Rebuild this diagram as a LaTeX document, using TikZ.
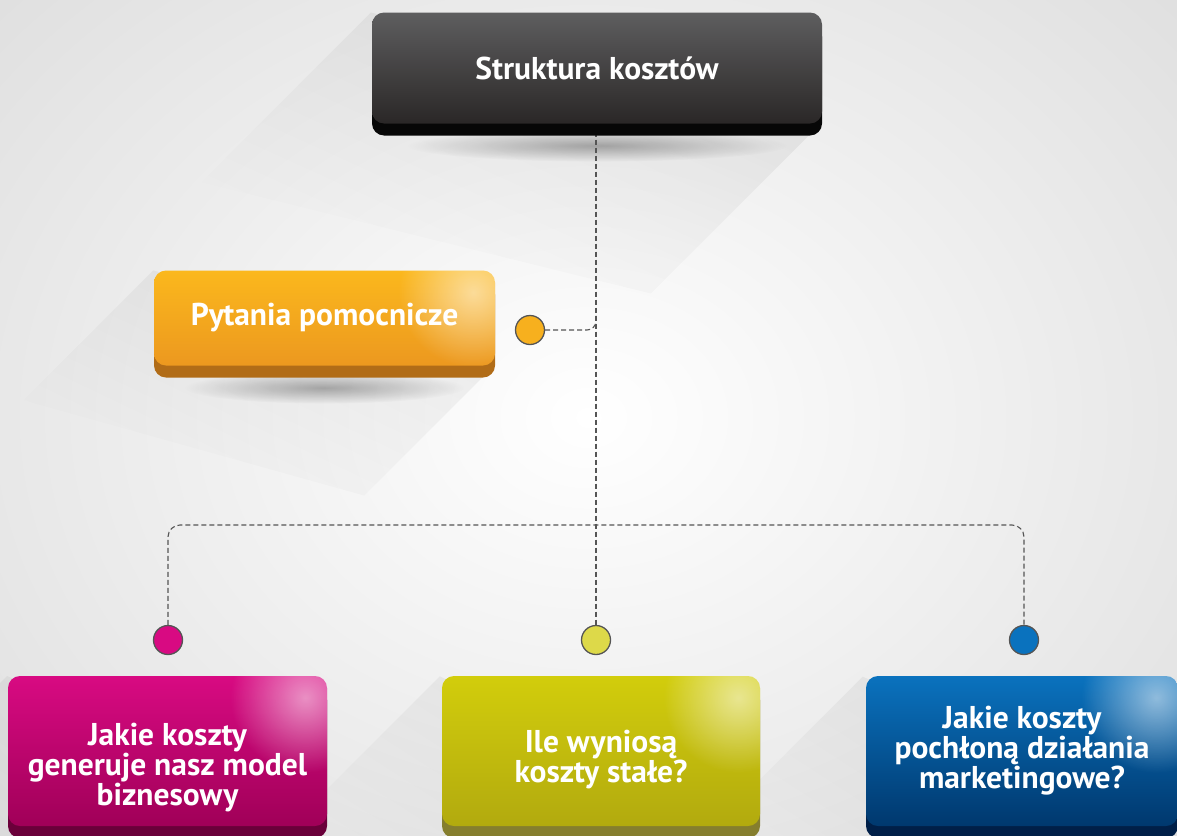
\documentclass[tikz,border=0pt]{standalone}
\usepackage{fontspec}
\setmainfont{PT Sans}
\usetikzlibrary{shadows,fadings,positioning,calc}

\definecolor{darktop}{HTML}{5E5E5F}
\definecolor{darkbot}{HTML}{2A2727}
\definecolor{darkband}{HTML}{070707}
\definecolor{orangetop}{HTML}{FBB81D}
\definecolor{orangebot}{HTML}{EC981F}
\definecolor{orangeband}{HTML}{B16C17}
\definecolor{magtop}{HTML}{D80A82}
\definecolor{magbot}{HTML}{A00058}
\definecolor{magband}{HTML}{6A003A}
\definecolor{olivetop}{HTML}{D2CD0C}
\definecolor{olivebot}{HTML}{B2AA0E}
\definecolor{oliveband}{HTML}{857E2E}
\definecolor{bluetop}{HTML}{0A72BE}
\definecolor{bluebot}{HTML}{00386E}
\definecolor{blueband}{HTML}{001F48}
\definecolor{linkgray}{HTML}{555555}

\pgfdeclarelayer{bg}
\pgfdeclarelayer{longshade}
\pgfsetlayers{bg,longshade,main}

\tikzfading[name=fadelong, top color=transparent!15, bottom color=transparent!100]
\tikzfading[name=glow, inner color=transparent!0, outer color=transparent!100]

\tikzset{
    card/.style n args={3}{rounded corners=12pt, top color=#1, bottom color=#2,
        general shadow={fill=#3, shadow yshift=-12pt},
        inner sep=0pt},
    cardtext/.style={text=white, align=center, inner sep=0pt,
        font=\bfseries\fontsize{31.5}{30}\selectfont},
    dot/.style={circle, fill=#1, draw=linkgray, line width=1.3pt,
        minimum size=29pt, inner sep=0pt},
    link/.style={draw=linkgray, line width=1.1pt, dash pattern=on 5pt off 3pt},
    longshadow/.style={fill=black, opacity=.07, path fading=fadelong, fading angle=-45},
    undershadow/.style={fill=black, opacity=.3, path fading=glow}
}

\begin{document}
\begin{tikzpicture}[x=1pt,y=-1pt]

            % Draw background.
            \useasboundingbox (0,0) rectangle (1177,835);
            \begin{pgfonlayer}{bg}
                \shade[inner color=white, outer color=black!13] (-250,-250) rectangle (1427,1085);
            \end{pgfonlayer}

            % Place boxes.
            \node[card={darktop}{darkbot}{darkband}, minimum width=450pt, minimum height=111pt]
                (cost) at (597,68) {};
            \node[card={orangetop}{orangebot}{orangeband}, minimum width=341pt, minimum height=95pt]
                (help) at (324.5,318) {};
            \node[card={magtop}{magbot}{magband}, minimum width=319pt, minimum height=150pt]
                (model) at (167.5,751) {};
            \node[card={olivetop}{olivebot}{oliveband}, minimum width=318pt, minimum height=150pt]
                (fixed) at (601,751) {};
            \node[card={bluetop}{bluebot}{blueband}, minimum width=312pt, minimum height=150pt]
                (market) at (1022,751) {};

            % Glossy corners.
            \foreach \b in {help,model,fixed,market} {
                \begin{scope}
                    \clip[rounded corners=12pt] (\b.north west) rectangle (\b.south east);
                    \fill[white, opacity=.55, path fading=glow]
                        ($(\b.north east)+(-22,22)$) circle (75);
                \end{scope}
            }

            % Texts.
            \node[cardtext] (costtext) at (cost) {Struktura kosztów};
            \node[cardtext] (helptext) at (help) {Pytania pomocnicze};
            \node[cardtext] (modeltext) at ($(model)+(0,17)$) {Jakie koszty\\generuje nasz model\\biznesowy};
            \node[cardtext] (fixedtext) at ($(fixed)+(0,9)$) {Ile wyniosą\\koszty stałe?};
            \node[cardtext] (markettext) at (market) {Jakie koszty\\pochłoną działania\\marketingowe?};

            % Draw long shadows.
            \begin{pgfonlayer}{longshade}
                \foreach \b/\L in {cost/170,help/130,model/150,fixed/150,market/150}
                    \fill[longshadow] (\b.north west) -- ++(-\L,\L)
                        -- ($(\b.south east)+(-\L,\L)$) -- (\b.south east) -- cycle;
                \foreach \b/\w in {cost/190,help/140}
                    \fill[undershadow] ($(\b.south)+(0,22)$) ellipse (\w pt and 16pt);
            \end{pgfonlayer}

            % Place dots.
            \node[dot=orangetop!75!orangebot] (helpdot) at (530,330) {};
            \node[dot=magtop] (modeldot) at (168,640) {};
            \node[dot=olivetop!75!white] (fixeddot) at (596,640) {};
            \node[dot=bluetop] (marketdot) at (1024,640) {};

            % Draw connectors.
            \coordinate (joint) at (596,312);
            \coordinate (bar) at (596,525);
            \begin{pgfonlayer}{longshade}
                \draw[link] (cost.south -| fixeddot) -- (fixeddot.north);
                \draw[link, rounded corners=9pt] (helpdot.east) -| (joint);
                \draw[link, rounded corners=12pt] (modeldot.north) |- (bar) -| (marketdot.north);
            \end{pgfonlayer}

\end{tikzpicture}
\end{document}
